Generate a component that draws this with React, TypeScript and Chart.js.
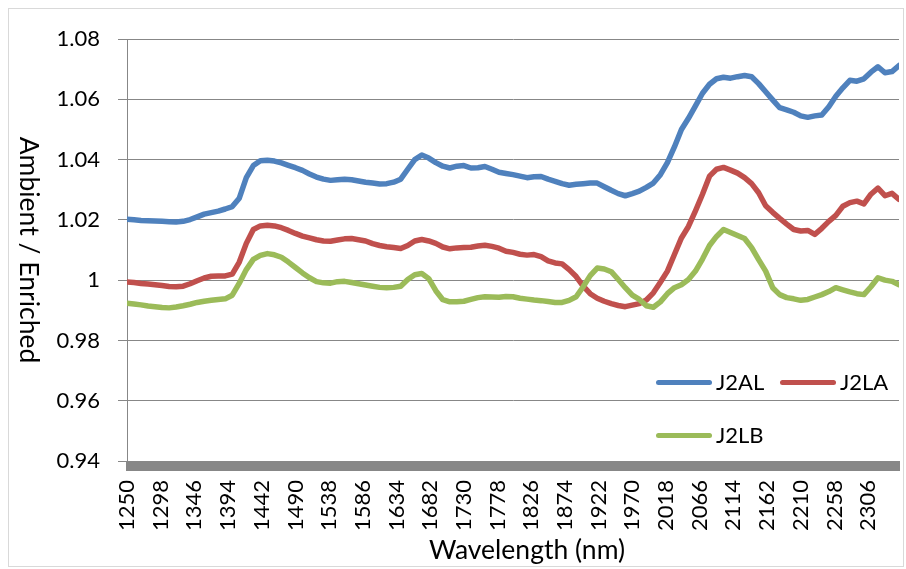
import { useEffect, useRef } from "react";
import { Chart, registerables } from "chart.js";

Chart.register(...registerables);

// Sample positions along the spectrum (nm), one every 10 nm.
const WAVELENGTHS: number[] = Array.from({ length: 111 }, (_, i) => 1250 + i * 10);

// Ambient / enriched reflectance ratio for each sample.
const J2AL = [
  1.0202, 1.02, 1.0198, 1.0197, 1.0196, 1.0195, 1.0194, 1.0193, 1.0195, 1.0201,
  1.021, 1.0219, 1.0224, 1.0229, 1.0236, 1.0244, 1.0272, 1.034, 1.038, 1.0396,
  1.0398, 1.0395, 1.0389, 1.0381, 1.0373, 1.0364, 1.0352, 1.0342, 1.0335, 1.0331,
  1.0333, 1.0335, 1.0333, 1.0329, 1.0325, 1.0322, 1.0319, 1.032, 1.0325, 1.0335,
  1.0368, 1.04, 1.0415, 1.0405, 1.039, 1.0378, 1.0372, 1.0378, 1.038, 1.0372,
  1.0373, 1.0377, 1.0368, 1.0358, 1.0354, 1.035, 1.0345, 1.034, 1.0343, 1.0344,
  1.0335, 1.0328, 1.032, 1.0315, 1.0318, 1.032, 1.0322, 1.0322, 1.031, 1.0298,
  1.0287, 1.028, 1.0287, 1.0295, 1.0308, 1.0322, 1.035, 1.039, 1.0442, 1.05,
  1.0537, 1.0578, 1.062, 1.065, 1.0668, 1.0673, 1.067, 1.0675, 1.0679, 1.0675,
  1.0652, 1.0625, 1.0598, 1.0572, 1.0565, 1.0557, 1.0545, 1.054, 1.0545, 1.0548,
  1.0575, 1.061, 1.0638, 1.0663, 1.066, 1.0668, 1.069, 1.0708, 1.0688, 1.0692,
  1.0712,
];

const J2LA = [
  0.9994, 0.9992, 0.9989, 0.9987, 0.9985, 0.9982, 0.9979, 0.9978, 0.998, 0.9988,
  0.9998, 1.0007, 1.0013, 1.0014, 1.0014, 1.002, 1.006, 1.0122, 1.0168, 1.018,
  1.0182, 1.018, 1.0174, 1.0165, 1.0155, 1.0146, 1.014, 1.0134, 1.013, 1.0129,
  1.0133, 1.0137, 1.0138, 1.0134, 1.013, 1.0121, 1.0115, 1.0111, 1.0108, 1.0105,
  1.0115, 1.013, 1.0135, 1.013, 1.0122, 1.011, 1.0104, 1.0107, 1.0108, 1.0109,
  1.0113, 1.0116, 1.0112, 1.0106, 1.0096, 1.0092, 1.0086, 1.0083, 1.0085, 1.0078,
  1.0064, 1.0057, 1.0054, 1.0035, 1.0012, 0.998, 0.9955, 0.994, 0.993, 0.9922,
  0.9916, 0.9912, 0.9917, 0.9922, 0.9934, 0.9958, 0.9993, 1.003, 1.0085, 1.014,
  1.0178, 1.023, 1.0285, 1.0345, 1.0368, 1.0374, 1.0365, 1.0355, 1.034, 1.032,
  1.029, 1.0247, 1.0225, 1.0205, 1.0186, 1.0168, 1.0163, 1.0165, 1.0152, 1.0172,
  1.0195, 1.0215, 1.0245, 1.0257, 1.0262, 1.0253, 1.0285, 1.0305, 1.028, 1.0288,
  1.0268,
];

const J2LB = [
  0.9923, 0.9921, 0.9918, 0.9914, 0.9912, 0.9909, 0.9908, 0.9911, 0.9915, 0.992,
  0.9926, 0.993, 0.9933, 0.9936, 0.9938, 0.995, 0.999, 1.0035, 1.0069, 1.0082,
  1.0088, 1.0084, 1.0076, 1.006, 1.0042, 1.0024, 1.0008, 0.9995, 0.9991, 0.999,
  0.9995, 0.9996, 0.9992, 0.9988, 0.9984, 0.998, 0.9976, 0.9975, 0.9976, 0.998,
  1.0002, 1.0018, 1.0022, 1.0005, 0.9965, 0.9935, 0.9928, 0.9928, 0.993, 0.9936,
  0.9942, 0.9945, 0.9944, 0.9943, 0.9946, 0.9945, 0.994, 0.9937, 0.9934, 0.9932,
  0.9929, 0.9926, 0.9926, 0.9933, 0.9945, 0.9978, 1.0015, 1.004, 1.0037, 1.0028,
  1.0002, 0.9975, 0.995, 0.9936, 0.9915, 0.991, 0.9928, 0.9955, 0.9975, 0.9985,
  1.0002, 1.003, 1.007, 1.0115, 1.0145, 1.0168, 1.0158, 1.0148, 1.0138, 1.0108,
  1.0068, 1.003, 0.9975, 0.9952, 0.9942, 0.9938, 0.9933, 0.9936, 0.9944, 0.9952,
  0.9962, 0.9975, 0.9968, 0.9961, 0.9955, 0.9952, 0.9978, 1.0008, 1.0, 0.9996,
  0.9985,
];

// Labelled wavelengths on the horizontal axis.
const X_TICKS = [
  1250, 1298, 1346, 1394, 1442, 1490, 1538, 1586, 1634, 1682, 1730, 1778,
  1826, 1874, 1922, 1970, 2018, 2066, 2114, 2162, 2210, 2258, 2306,
];
const X_MIN = 1250;
const X_MAX = 2350;
const Y_MIN = 0.94;
const Y_MAX = 1.08;
const Y_STEP = 0.02;

const SERIES = [
  { label: "J2AL", values: J2AL, color: "#4F81BD" },
  { label: "J2LA", values: J2LA, color: "#C0504D" },
  { label: "J2LB", values: J2LB, color: "#9BBB59" },
];

const FONT = "Lato, 'Open Sans', sans-serif";
const AXIS_GREY = "#878787";

// Heavy category-axis bar drawn under the plot area.
const axisBand = {
  id: "axisBand",
  beforeDatasetsDraw(chart: any) {
    const { ctx, chartArea } = chart;
    ctx.save();
    ctx.fillStyle = AXIS_GREY;
    ctx.fillRect(chartArea.left - 1, chartArea.bottom, chartArea.right - chartArea.left + 2, 10);
    ctx.restore();
  },
};

export default function App() {
  const canvasRef = useRef<HTMLCanvasElement | null>(null);

  useEffect(() => {
    const canvas = canvasRef.current;
    if (!canvas) return;
    const chart = new Chart(canvas, {
      type: "line",
      data: {
        datasets: SERIES.map((s, i) => ({
          label: s.label,
          data: s.values.map((v, j) => ({ x: WAVELENGTHS[j], y: v })),
          borderColor: s.color,
          backgroundColor: s.color,
          borderWidth: 5.5,
          borderJoinStyle: "round" as const,
          borderCapStyle: "round" as const,
          pointRadius: 0,
          tension: 0,
          fill: false,
          order: SERIES.length - i,
        })),
      },
      options: {
        responsive: false,
        animation: false,
        layout: { padding: { top: 39, right: 7, bottom: 0, left: 0 } },
        plugins: {
          legend: { display: false },
          tooltip: { enabled: false },
          title: { display: false },
        },
        scales: {
          x: {
            type: "linear",
            min: X_MIN,
            max: X_MAX,
            afterBuildTicks: (scale: any) => {
              scale.ticks = X_TICKS.map((v) => ({ value: v }));
            },
            afterFit: (scale: any) => {
              scale.height = 569 - 461;
              scale.paddingLeft = 0;
              scale.paddingRight = 0;
            },
            grid: { display: false, drawTicks: false },
            border: { display: false },
            ticks: {
              autoSkip: false,
              maxRotation: 90,
              minRotation: 90,
              padding: 19,
              color: "#000",
              font: { family: FONT, size: 22 },
              callback: (v: any) => String(v),
            },
            title: { display: false },
          },
          y: {
            min: Y_MIN,
            max: Y_MAX,
            afterFit: (scale: any) => {
              scale.width = 127;
              scale.paddingTop = 0;
              scale.paddingBottom = 0;
            },
            grid: {
              color: AXIS_GREY,
              lineWidth: 1,
              tickLength: 9,
              drawTicks: true,
            },
            border: { display: true, color: AXIS_GREY, width: 1 },
            ticks: {
              stepSize: Y_STEP,
              padding: 18,
              color: "#000",
              font: { family: FONT, size: 22 },
              callback: (v: any) => String(Number(Number(v).toFixed(2))),
            },
          },
        },
      },
      plugins: [axisBand],
    });
    return () => chart.destroy();
  }, []);

  const titleStyle = {
    position: "absolute" as const,
    whiteSpace: "nowrap" as const,
    fontFamily: FONT,
    fontSize: 26.5,
    color: "#000",
    lineHeight: 1,
  };

  return (
    <div
      style={{
        position: "fixed",
        left: 0,
        top: 0,
        width: 906,
        height: 569,
        background: "#fff",
        overflow: "hidden",
      }}
    >
      <canvas ref={canvasRef} width={906} height={569} style={{ position: "absolute", left: 0, top: 0 }} />
      <div
        style={{
          position: "absolute",
          left: 8,
          top: 8,
          width: 894,
          height: 557,
          border: "1px solid #d9d9d9",
          pointerEvents: "none",
        }}
      />
      <div style={{ ...titleStyle, left: 30, top: 250, transform: "translate(-50%, -50%) rotate(90deg)" }}>
        Ambient / Enriched
      </div>
      <div style={{ ...titleStyle, left: 527, top: 549, transform: "translate(-50%, -50%)" }}>
        Wavelength (nm)
      </div>
      {SERIES.map((s, i) => {
        const pos = [
          { left: 656, top: 382 },
          { left: 780, top: 382 },
          { left: 656, top: 435 },
        ][i];
        return (
          <div
            key={s.label}
            style={{
              position: "absolute",
              left: pos.left,
              top: pos.top,
              transform: "translateY(-50%)",
              display: "flex",
              alignItems: "center",
              fontFamily: FONT,
              fontSize: 22,
              color: "#000",
              lineHeight: 1,
            }}
          >
            <span
              style={{
                display: "inline-block",
                width: 56,
                height: 5,
                borderRadius: 3,
                background: s.color,
                marginRight: 4,
              }}
            />
            <span>{s.label}</span>
          </div>
        );
      })}
    </div>
  );
}
